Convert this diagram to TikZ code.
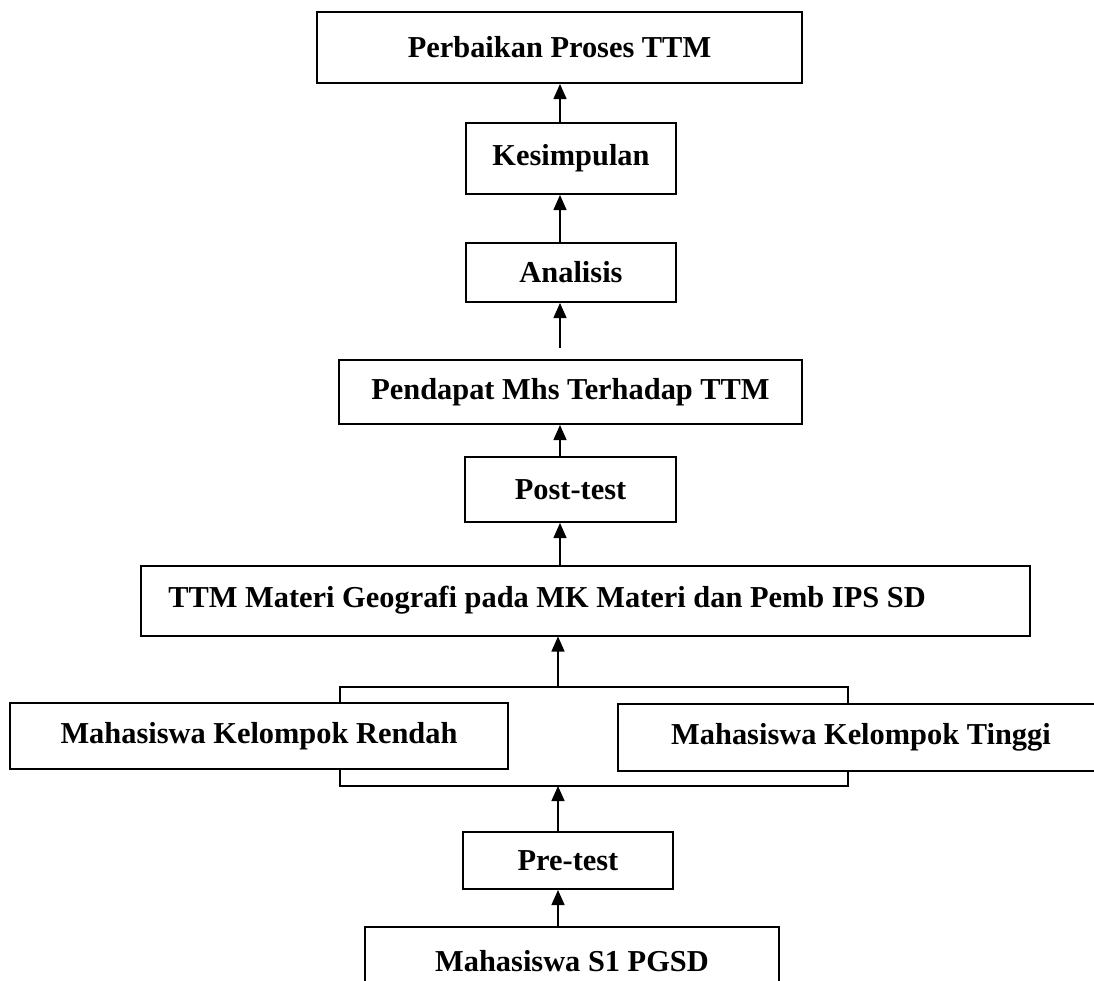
\documentclass[tikz,border=0pt]{standalone}
\usepackage{fontspec}
\setmainfont{Liberation Serif}
\usetikzlibrary{arrows.meta}
\begin{document}
\begin{tikzpicture}[x=0.5pt,y=-0.5pt,
  box/.style={draw, line width=1pt, rectangle, inner sep=0pt, align=center,
    font=\fontsize{15.2}{18}\selectfont\bfseries},
  conn/.style={line width=0.75pt},
  arr/.style={line width=0.75pt, -{Triangle[length=7.5pt,width=6.5pt]}}]
\useasboundingbox (0,0) rectangle (1094,981);
\clip (0,0) rectangle (1094,981);
\node[box, minimum width=242.5pt, minimum height=35.5pt] (perb) at (559.5,47.5) {Perbaikan Proses TTM};
\node[box, minimum width=105pt, minimum height=35.5pt] (kes) at (571,158.5) {Kesimpulan};
\node[box, minimum width=105pt, minimum height=29.5pt] (ana) at (571,272.5) {Analisis};
\node[box, minimum width=231.5pt, minimum height=32pt] (pend) at (570.5,392) {Pendapat Mhs Terhadap TTM};
\node[box, minimum width=105.5pt, minimum height=32.5pt] (post) at (570.5,489.5) {Post-test};
\node[box, minimum width=444.5pt, minimum height=35pt] (ttm) at (585.5,600.5) {TTM Materi Geografi pada MK Materi dan Pemb IPS SD\hspace{38.5pt}};
\node[box, minimum width=249pt, minimum height=33pt] (rendah) at (259,736) {Mahasiswa Kelompok Rendah};
\node[box, minimum width=243pt, minimum height=33.5pt] (tinggi) at (861,737.5) {Mahasiswa Kelompok Tinggi};
\node[box, minimum width=105pt, minimum height=28.5pt] (pre) at (568,860.5) {Pre-test};
\node[box, minimum width=207pt, minimum height=34pt] (s1) at (572,961) {Mahasiswa S1 PGSD};
% connector columns
\coordinate (ax) at (560,0);
\coordinate (btl) at (340,687);
\coordinate (btr) at (848,687);
\coordinate (btm) at (558,687);
\coordinate (bbl) at (340,786);
\coordinate (bbr) at (848,786);
\coordinate (bbm) at (558,786);
\draw[arr] (kes.north -| ax) -- (perb.south -| ax);
\draw[arr] (ana.north -| ax) -- (kes.south -| ax);
\draw[arr, shorten <=5.5pt] (pend.north -| ax) -- (ana.south -| ax);
\draw[arr] (post.north -| ax) -- (pend.south -| ax);
\draw[arr] (ttm.north -| ax) -- (post.south -| ax);
\draw[conn] (rendah.north -| btl) -- (btl) -- (btr) -- (tinggi.north -| btr);
\draw[arr] (btm) -- (ttm.south -| btm);
\draw[conn] (rendah.south -| bbl) -- (bbl) -- (bbr) -- (tinggi.south -| bbr);
\draw[arr] (pre.north -| bbm) -- (bbm);
\draw[arr] (s1.north -| bbm) -- (pre.south -| bbm);
\end{tikzpicture}
\end{document}
